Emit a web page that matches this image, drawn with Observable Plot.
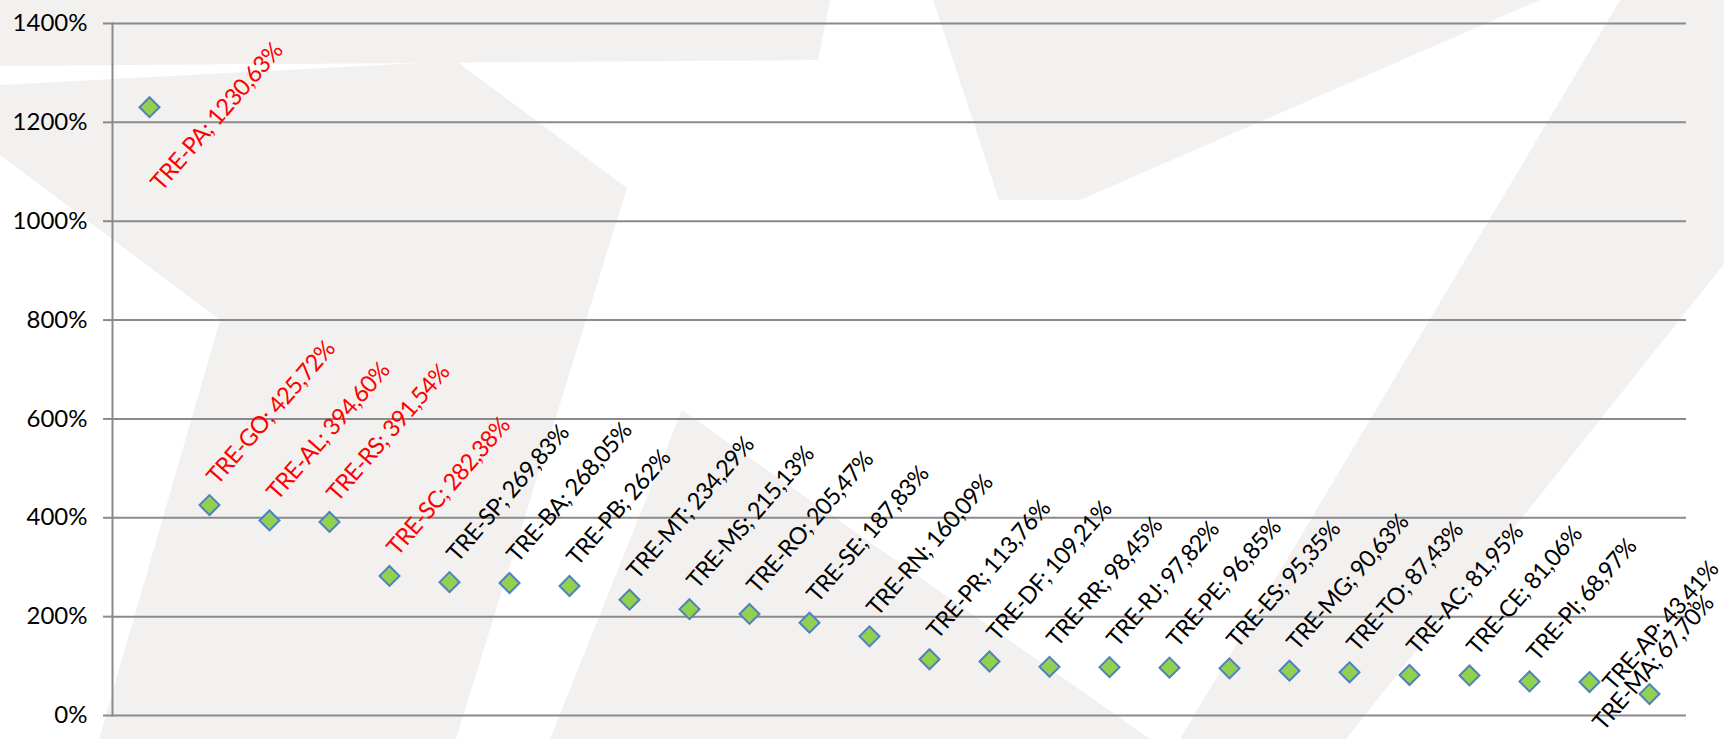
<!DOCTYPE html>
<html><head><meta charset="utf-8">
<script src="https://cdn.jsdelivr.net/npm/d3@7"></script>
<script src="https://cdn.jsdelivr.net/npm/@observablehq/plot@0.6"></script>
<style>
html,body{margin:0;padding:0;background:#fff;}
#wrap{position:relative;width:1724px;height:739px;overflow:hidden;}
#bg{position:absolute;left:0;top:0;}
#chart{position:absolute;left:0;top:0;}
#chart g[aria-label="text"] text{letter-spacing:-0.7px;}
</style></head><body>
<div id="wrap">
<svg id="bg" width="1724" height="739">
  <rect width="1724" height="739" fill="#ffffff"/>
  <g fill="#f3f1f0">
    <polygon points="0,0 830,0 818,60 0,66"/>
    <polygon points="0,85 456,61 627,188 456,739 99,739 220,320 0,155"/>
    <polygon points="682,410 1150,739 550,739"/>
    <polygon points="933,0 1540,0 1080,200 999,200"/>
    <polygon points="1620,0 1724,0 1724,264 1346,739 1180,739"/>
  </g>
</svg>
<div id="chart"></div>
</div>
<script>
// ---- data ----
const regions = ["TRE-PA","TRE-GO","TRE-AL","TRE-RS","TRE-SC","TRE-SP","TRE-BA","TRE-PB","TRE-MT","TRE-MS","TRE-RO","TRE-SE","TRE-RN","TRE-PR","TRE-DF","TRE-RR","TRE-RJ","TRE-PE","TRE-ES","TRE-MG","TRE-TO","TRE-AC","TRE-CE","TRE-PI","TRE-MA","TRE-AP"];
const values = [1230.63,425.72,394.60,391.54,282.38,269.83,268.05,262,234.29,215.13,205.47,187.83,160.09,113.76,109.21,98.45,97.82,96.85,95.35,90.63,87.43,81.95,81.06,68.97,67.70,43.41];
const yTicks = [0,200,400,600,800,1000,1200,1400];
const highlightedCount = 5; // top regions shown in red

const data = regions.map((r, i) => ({region: r, value: values[i], rank: i}));
const fmt = v => (Number.isInteger(v) ? String(v) : v.toFixed(2).replace(".", ",")) + "%";
const label = d => d.region + "; " + fmt(d.value);
const color = d => d.rank < highlightedCount ? "#ff0000" : "#000000";

const maxV = d3.max(values);
const n = regions.length;
// placement rules: the highest label goes below its point (no room above);
// the last two labels are tucked into the lower-right corner so they stay in the frame;
// all others go above-right of their point
const topGroup = data.filter(d => d.value === maxV);
const lastGroup = data.filter(d => d.rank === n - 1);
const prevGroup = data.filter(d => d.rank === n - 2);
const mainGroup = data.filter(d => d.value !== maxV && d.rank < n - 2);

const angle = -49;
const fs = 23.5;
const textOpts = (dx, dy) => ({
  x: "region", y: "value", text: label, fill: color,
  rotate: angle, textAnchor: "start", lineAnchor: "bottom",
  fontSize: fs, dx, dy
});

const chart = Plot.plot({
  width: 1724, height: 739,
  marginLeft: 112, marginRight: 38, marginTop: 23, marginBottom: 24,
  style: {background: "transparent", fontFamily: "Lato, 'Open Sans', sans-serif", overflow: "visible"},
  x: {type: "point", domain: regions, padding: 0.5, axis: null},
  y: {domain: [0, 1400], label: null},
  marks: [
    Plot.gridY(yTicks, {stroke: "#8a8a8a", strokeOpacity: 1, strokeWidth: 2}),
    Plot.axisY(yTicks, {tickFormat: d => d + "%", tickSize: 9, tickPadding: 16, stroke: "#8a8a8a", strokeWidth: 2, fill: "#000", fontSize: 24, label: null}),
    Plot.frame({anchor: "left", stroke: "#8a8a8a", strokeWidth: 2}),
    Plot.dot(data, {x: "region", y: "value", symbol: "diamond2", r: 9, fill: "#92d050", stroke: "#4f81bd", strokeWidth: 2}),
    Plot.text(mainGroup, textOpts(8, -19)),
    Plot.text(topGroup, textOpts(12, 85)),
    Plot.text(lastGroup, textOpts(-36, -2)),
    Plot.text(prevGroup, textOpts(14, 50))
  ]
});
document.getElementById("chart").appendChild(chart);
</script>
</body></html>
